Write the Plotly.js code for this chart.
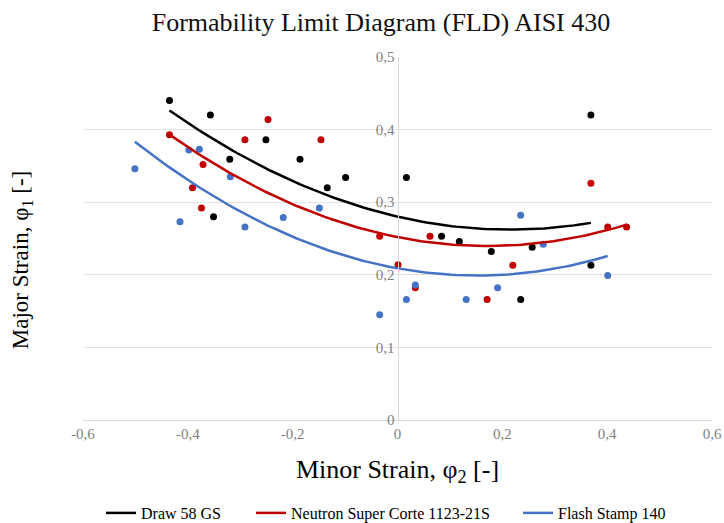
<!DOCTYPE html>
<html><head><meta charset="utf-8">
<script src="https://cdn.plot.ly/plotly-3.0.1.min.js"></script>
<style>html,body{margin:0;padding:0;background:#fff}#chart{width:724px;height:523px}
#chart .xtick text,#chart .ytick text{font-family:'Liberation Serif','Times New Roman',serif !important}</style>
</head><body><div id="chart"></div>
<script>
// Draw 58 GS
const drawX = [-0.435,-0.357,-0.351,-0.320,-0.251,-0.186,-0.134,-0.099,0.017,0.084,0.118,0.179,0.235,0.257,0.369,0.369];
const drawY = [0.440,0.420,0.280,0.359,0.386,0.359,0.320,0.334,0.334,0.253,0.246,0.232,0.166,0.238,0.420,0.213];
// Neutron Super Corte 1123-21S
const neutronX = [-0.435,-0.247,-0.291,-0.371,-0.391,-0.374,-0.146,-0.034,0.001,0.062,0.034,0.171,0.220,0.369,0.401,0.437];
const neutronY = [0.393,0.414,0.386,0.352,0.320,0.292,0.386,0.253,0.214,0.253,0.182,0.166,0.213,0.326,0.266,0.266];
// Flash Stamp 140
const flashX = [-0.501,-0.398,-0.378,-0.319,-0.415,-0.291,-0.218,-0.149,-0.034,0.017,0.034,0.131,0.191,0.235,0.278,0.401];
const flashY = [0.346,0.372,0.373,0.335,0.273,0.266,0.279,0.292,0.145,0.166,0.186,0.166,0.182,0.282,0.242,0.199];

const seriesNames = ['Draw 58 GS','Neutron Super Corte 1123-21S','Flash Stamp 140'];
const seriesColors = ['#000000','#C00000','#4472C4'];

const xTickVals = [-0.6,-0.4,-0.2,0,0.2,0.4,0.6];
const xTickText = ['-0,6','-0,4','-0,2','0','0,2','0,4','0,6'];
const yTickVals = [0,0.1,0.2,0.3,0.4,0.5];
const yTickText = ['0','0,1','0,2','0,3','0,4','0,5'];

// polynomial (order 2) trendline, least squares
function polyFit(xs, ys){
  let S=[0,0,0,0,0], T=[0,0,0];
  for(let i=0;i<xs.length;i++){
    let p=1;
    for(let k=0;k<5;k++){S[k]+=p; if(k<3) T[k]+=ys[i]*p; p*=xs[i];}
  }
  const A=[[S[0],S[1],S[2],T[0]],[S[1],S[2],S[3],T[1]],[S[2],S[3],S[4],T[2]]];
  for(let c=0;c<3;c++){
    for(let r=c+1;r<3;r++){const f=A[r][c]/A[c][c]; for(let k=c;k<4;k++) A[r][k]-=f*A[c][k];}
  }
  const b=[0,0,0];
  for(let r=2;r>=0;r--){let s=A[r][3]; for(let k=r+1;k<3;k++) s-=A[r][k]*b[k]; b[r]=s/A[r][r];}
  return b;
}
function trend(xs, ys){
  const b=polyFit(xs,ys);
  const lo=Math.min(...xs), hi=Math.max(...xs);
  const tx=[], ty=[];
  for(let i=0;i<=100;i++){const x=lo+(hi-lo)*i/100; tx.push(x); ty.push(b[0]+b[1]*x+b[2]*x*x);}
  return [tx,ty];
}

const serif="Liberation Serif";
const sets=[[drawX,drawY],[neutronX,neutronY],[flashX,flashY]];
const legendIds=['legend','legend2','legend3'];
const legendX=[101,251,518];
const traces=[];
sets.forEach((s,i)=>{
  traces.push({x:s[0],y:s[1],type:'scatter',mode:'markers',showlegend:false,
    marker:{color:seriesColors[i],size:7},hoverinfo:'x+y'});
});
sets.forEach((s,i)=>{
  const t=trend(s[0],s[1]);
  traces.push({x:t[0],y:t[1],type:'scatter',mode:'lines',name:seriesNames[i],legend:legendIds[i],
    line:{color:seriesColors[i],width:2.5}});
});

const layout={
  width:724,height:523,
  margin:{l:83,r:12,t:57,b:103,autoexpand:false},
  paper_bgcolor:'#fff',plot_bgcolor:'#fff',
  font:{family:serif,color:'#000'},
  title:{text:'Formability Limit Diagram (FLD) AISI 430',x:381/724,xanchor:'center',xref:'container',
    y:1-22/523,yanchor:'middle',yref:'container',
    font:{family:serif,size:26,color:'#111'}},
  xaxis:{range:[-0.6,0.6],tickvals:xTickVals,ticktext:xTickText,showgrid:false,zeroline:false,
    showline:true,linecolor:'#d9d9d9',linewidth:1,ticks:'',
    tickfont:{family:serif,size:15,color:'#7f7f7f'},
    title:{text:'Minor Strain, φ<sub>2</sub> [-]',font:{family:serif,size:26,color:'#000'},standoff:18}},
  yaxis:{range:[0,0.5],tickvals:yTickVals,ticktext:yTickText,showgrid:true,gridcolor:'#e3e3e3',
    zeroline:false,showline:true,linecolor:'#d9d9d9',linewidth:1,ticks:'',
    anchor:'free',position:0.5,
    tickfont:{family:serif,size:15,color:'#7f7f7f'},
    title:{text:''}},
  annotations:[{text:'Major Strain, φ<sub>1</sub> [-]',xref:'paper',yref:'paper',x:-0.097,y:0.44,
    textangle:-90,showarrow:false,xanchor:'center',yanchor:'middle',font:{family:serif,size:23,color:'#000'}}],
  showlegend:true
};
legendIds.forEach((id,i)=>{
  layout[id]={orientation:'h',x:legendX[i]/724,xanchor:'left',xref:'container',y:10/523,yanchor:'middle',yref:'container',
    font:{family:serif,size:16,color:'#000'},bgcolor:'rgba(0,0,0,0)'};
});
Plotly.newPlot('chart',traces,layout,{displayModeBar:false,staticPlot:true});
</script></body></html>
